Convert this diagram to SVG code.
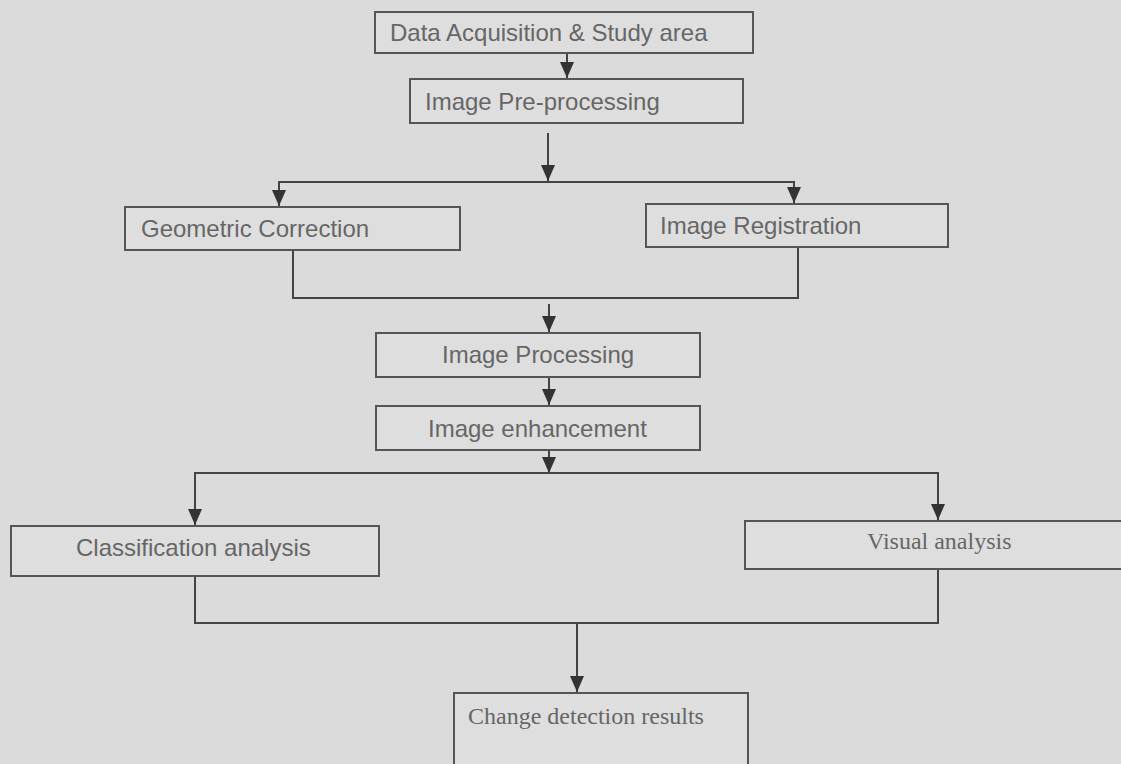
<svg xmlns="http://www.w3.org/2000/svg" width="1121" height="764" viewBox="0 0 1121 764">
<defs>
<style>
.bg{fill:#dbdbdb}
.box{fill:#dedede;stroke:#555;stroke-width:2}
.lbl{font-family:"Liberation Sans",Arial,sans-serif;font-size:24px;fill:#666}
.ser{font-family:"Liberation Serif","Times New Roman",serif;font-size:24px;fill:#666}
.con{fill:none;stroke:#444;stroke-width:2}
</style>
<marker id="arr" markerUnits="userSpaceOnUse" markerWidth="16" markerHeight="14" refX="16" refY="7" orient="auto" viewBox="0 0 16 14">
<path d="M0,0 L16,7 L0,14 z" fill="#333"/>
</marker>
</defs>
<rect class="bg" x="0" y="0" width="1121" height="764"/>
<g id="connectors">
<path class="con" d="M567,53 V78" marker-end="url(#arr)"/>
<path class="con" d="M548,133 V181" marker-end="url(#arr)"/>
<path class="con" d="M548,182 H279 V206" marker-end="url(#arr)"/>
<path class="con" d="M548,182 H794 V203" marker-end="url(#arr)"/>
<path class="con" d="M293,250 V298 H798 V247"/>
<path class="con" d="M549,304 V332" marker-end="url(#arr)"/>
<path class="con" d="M549,377 V405" marker-end="url(#arr)"/>
<path class="con" d="M549,450 V473" marker-end="url(#arr)"/>
<path class="con" d="M549,473 H195 V525" marker-end="url(#arr)"/>
<path class="con" d="M549,473 H938 V520" marker-end="url(#arr)"/>
<path class="con" d="M195,576 V623 H938 V569"/>
<path class="con" d="M577,623 V692" marker-end="url(#arr)"/>
</g>
<g id="n1"><rect class="box" x="375" y="12" width="378" height="41"/><text class="lbl" x="390" y="41">Data Acquisition &amp; Study area</text></g>
<g id="n2"><rect class="box" x="410" y="79" width="333" height="44"/><text class="lbl" x="425" y="110">Image Pre-processing</text></g>
<g id="n3"><rect class="box" x="125" y="207" width="335" height="43"/><text class="lbl" x="141" y="237">Geometric Correction</text></g>
<g id="n4"><rect class="box" x="646" y="204" width="302" height="43"/><text class="lbl" x="660" y="234">Image Registration</text></g>
<g id="n5"><rect class="box" x="376" y="333" width="324" height="44"/><text class="lbl" x="442" y="363">Image Processing</text></g>
<g id="n6"><rect class="box" x="376" y="406" width="324" height="44"/><text class="lbl" x="428" y="437">Image enhancement</text></g>
<g id="n7"><rect class="box" x="11" y="526" width="368" height="50"/><text class="lbl" x="76" y="556">Classification analysis</text></g>
<g id="n8"><rect class="box" x="745" y="521" width="390" height="48"/><text class="ser" x="867" y="549">Visual analysis</text></g>
<g id="n9"><rect class="box" x="454" y="693" width="294" height="90"/><text class="ser" x="468" y="724">Change detection results</text></g>
</svg>
